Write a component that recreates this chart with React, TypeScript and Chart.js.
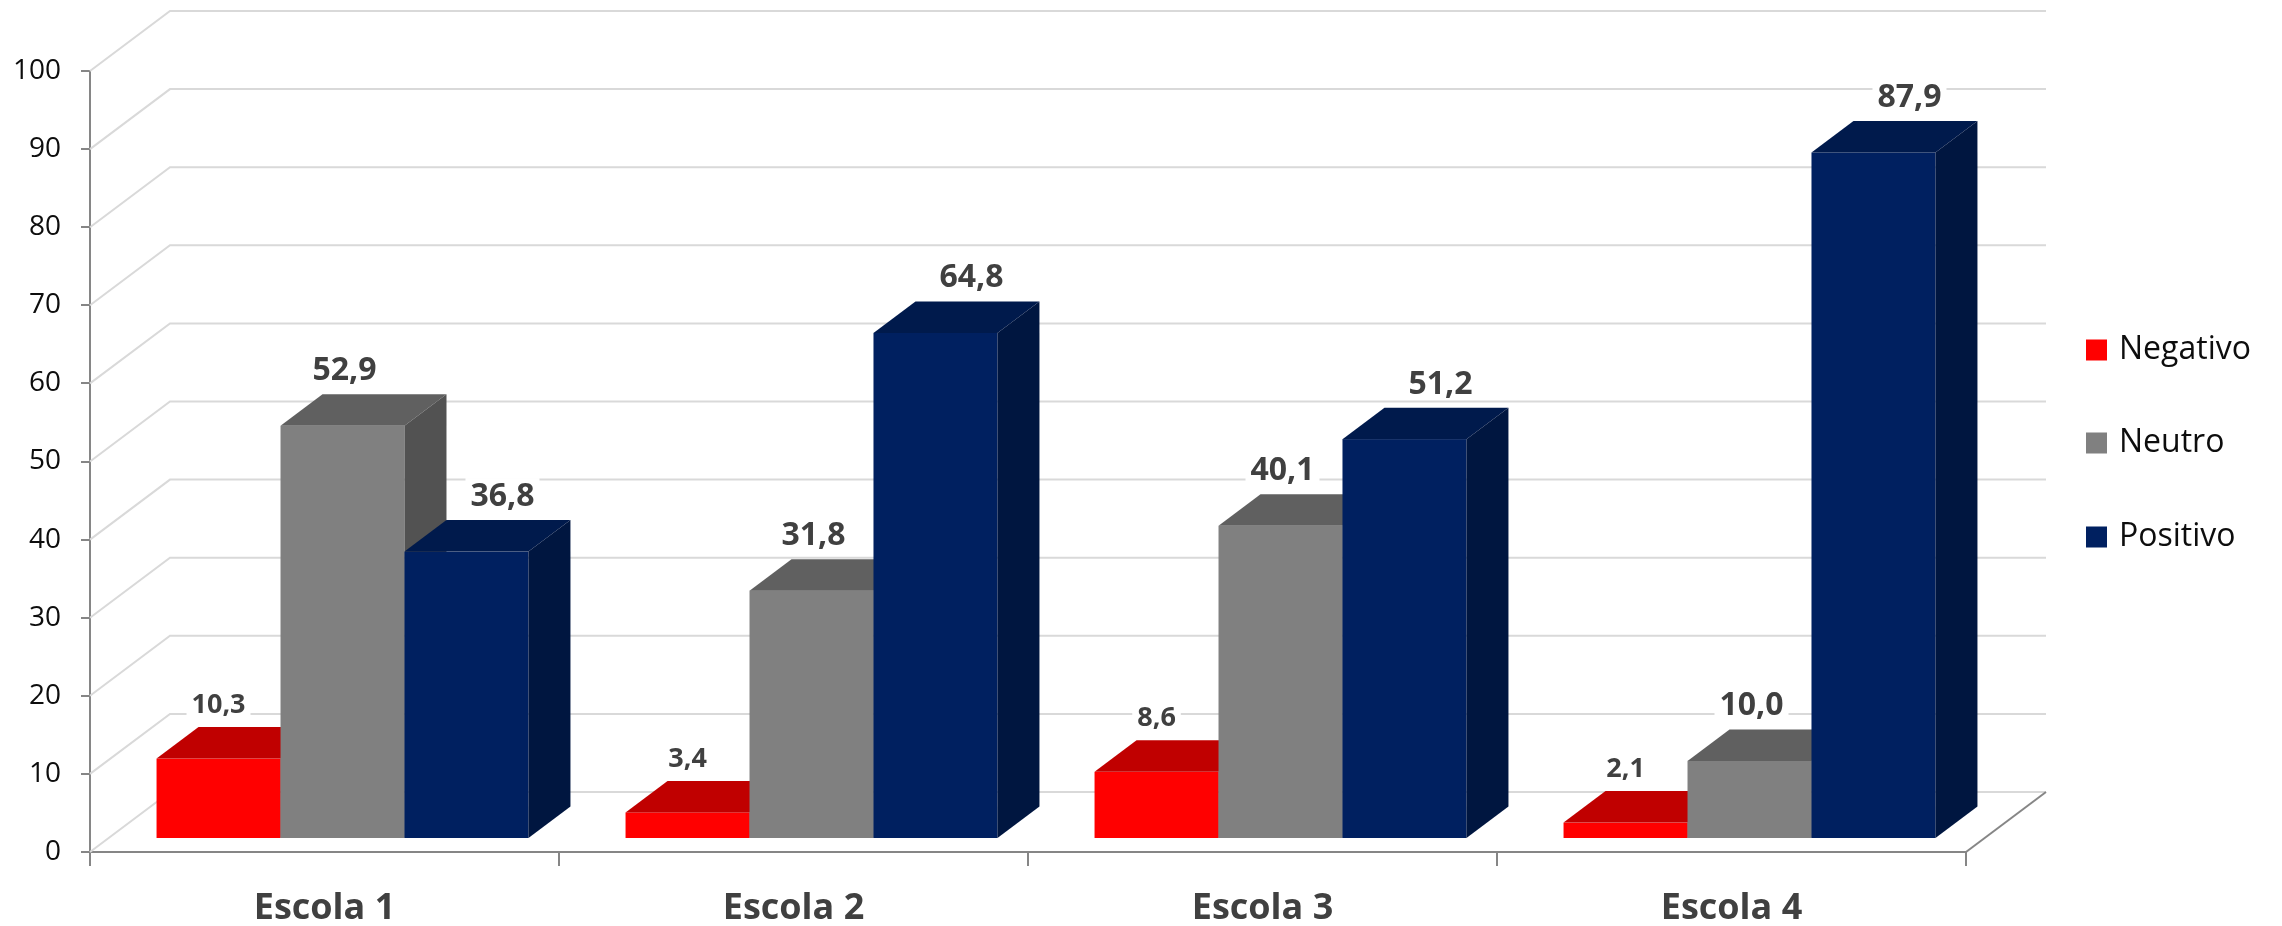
import { useEffect, useRef } from 'react';
import { Chart, registerables } from 'chart.js';

Chart.register(...registerables);

// ---- data ----
const categories = ['Escola 1', 'Escola 2', 'Escola 3', 'Escola 4'];
const seriesNames = ['Negativo', 'Neutro', 'Positivo'];
const negativo = [10.3, 3.4, 8.6, 2.1];
const neutro = [52.9, 31.8, 40.1, 10.0];
const positivo = [36.8, 64.8, 51.2, 87.9];
const yMin = 0;
const yMax = 100;
const yStep = 10;

// ---- styles ----
const FRONT = ['#FF0000', '#808080', '#002060'];
const TOP = ['#C00000', '#606060', '#001A4C'];
const SIDE = ['#A00000', '#525252', '#001640'];
const LABEL_SIZE = [27, 32, 32];
const LABEL_DX = [0, 2, 36];
const BAR_SHIFT = { x: 18, y: -13 };
const BAR_DEPTH = { x: 42, y: -31.5 };
const WALL = { x: 80, y: -60 };
const FONT = '"Open Sans", "DejaVu Sans", sans-serif';

const fmt = (v: number) => v.toFixed(1).replace('.', ',');

const threeD = {
  id: 'threeD',
  beforeDatasetsDraw(chart: any) {
    const { ctx, chartArea: a, scales } = chart;
    const ys = scales.y;
    ctx.save();
    ctx.lineWidth = 2;
    ctx.strokeStyle = '#D9D9D9';
    for (let v = yMin; v <= yMax; v += yStep) {
      const py = ys.getPixelForValue(v);
      ctx.beginPath();
      ctx.moveTo(a.left, py);
      ctx.lineTo(a.left + WALL.x, py + WALL.y);
      ctx.lineTo(a.right + WALL.x, py + WALL.y);
      ctx.stroke();
    }
    ctx.strokeStyle = '#868686';
    ctx.beginPath();
    ctx.moveTo(a.right, a.bottom);
    ctx.lineTo(a.right + WALL.x, a.bottom + WALL.y);
    ctx.stroke();

    const n = chart.data.labels.length;
    for (let j = 0; j < n; j++) {
      chart.data.datasets.forEach((_ds: any, i: number) => {
        const el = chart.getDatasetMeta(i).data[j];
        const p = el.getProps(['x', 'y', 'base', 'width'], true);
        const x0 = p.x - p.width / 2 + BAR_SHIFT.x;
        const x1 = p.x + p.width / 2 + BAR_SHIFT.x;
        const yt = p.y + BAR_SHIFT.y;
        const yb = p.base + BAR_SHIFT.y;
        ctx.fillStyle = FRONT[i];
        ctx.fillRect(x0, yt, x1 - x0, yb - yt);
        ctx.fillStyle = TOP[i];
        ctx.beginPath();
        ctx.moveTo(x0, yt);
        ctx.lineTo(x0 + BAR_DEPTH.x, yt + BAR_DEPTH.y);
        ctx.lineTo(x1 + BAR_DEPTH.x, yt + BAR_DEPTH.y);
        ctx.lineTo(x1, yt);
        ctx.closePath();
        ctx.fill();
        ctx.fillStyle = SIDE[i];
        ctx.beginPath();
        ctx.moveTo(x1, yt);
        ctx.lineTo(x1 + BAR_DEPTH.x, yt + BAR_DEPTH.y);
        ctx.lineTo(x1 + BAR_DEPTH.x, yb + BAR_DEPTH.y);
        ctx.lineTo(x1, yb);
        ctx.closePath();
        ctx.fill();
      });
    }
    ctx.restore();
    return false;
  },
  afterDraw(chart: any) {
    const { ctx } = chart;
    ctx.save();
    chart.data.datasets.forEach((ds: any, i: number) => {
      const meta = chart.getDatasetMeta(i);
      meta.data.forEach((el: any, j: number) => {
        const p = el.getProps(['x', 'y', 'width'], true);
        const text = fmt(ds.data[j]);
        ctx.font = `bold ${LABEL_SIZE[i]}px ${FONT}`;
        const w = ctx.measureText(text).width;
        const cx = p.x + BAR_SHIFT.x + LABEL_DX[i];
        const baseY = p.y + BAR_SHIFT.y + BAR_DEPTH.y - 14;
        const h = LABEL_SIZE[i] * 0.72;
        ctx.fillStyle = '#FFFFFF';
        ctx.fillRect(cx - w / 2 - 5, baseY - h - 5, w + 10, h + 9);
        ctx.fillStyle = '#404040';
        ctx.textAlign = 'center';
        ctx.textBaseline = 'alphabetic';
        ctx.fillText(text, cx, baseY);
      });
    });
    const lx = 2086;
    const ly = [350, 443, 537];
    chart.data.datasets.forEach((ds: any, i: number) => {
      ctx.fillStyle = FRONT[i];
      ctx.fillRect(lx, ly[i] - 10.5, 21, 21);
      ctx.fillStyle = '#0D0D0D';
      ctx.font = `32px ${FONT}`;
      ctx.textAlign = 'left';
      ctx.textBaseline = 'middle';
      ctx.fillText(ds.label, lx + 33, ly[i]);
    });
    ctx.restore();
  },
};

export default function App() {
  const ref = useRef<HTMLCanvasElement>(null);
  useEffect(() => {
    const chart = new Chart(ref.current as HTMLCanvasElement, {
      type: 'bar',
      data: {
        labels: categories,
        datasets: [
          { label: seriesNames[0], data: negativo, backgroundColor: FRONT[0] },
          { label: seriesNames[1], data: neutro, backgroundColor: FRONT[1] },
          { label: seriesNames[2], data: positivo, backgroundColor: FRONT[2] },
        ],
      },
      options: {
        responsive: false,
        animation: false,
        devicePixelRatio: 1,
        datasets: { bar: { categoryPercentage: 0.793, barPercentage: 1 } },
        layout: { padding: { left: 0, top: 71, right: 316, bottom: 0 } },
        plugins: { legend: { display: false }, tooltip: { enabled: false } },
        scales: {
          x: {
            type: 'category',
            offset: true,
            afterFit: (s: any) => { s.height = 74; },
            grid: { offset: true, drawOnChartArea: false, drawTicks: true, tickLength: 14, color: '#868686', lineWidth: 2 },
            border: { display: true, color: '#868686', width: 2 },
            ticks: { color: '#404040', font: { family: FONT, size: 36, weight: 'bold' }, padding: 21 },
          },
          y: {
            min: yMin,
            max: yMax,
            afterFit: (s: any) => { s.width = 90; },
            grid: { drawOnChartArea: false, drawTicks: true, tickLength: 9, color: '#868686', lineWidth: 2 },
            border: { display: true, color: '#868686', width: 2 },
            ticks: { stepSize: yStep, color: '#0D0D0D', font: { family: FONT, size: 28 }, padding: 20 },
          },
        },
      },
      plugins: [threeD],
    } as any);
    return () => chart.destroy();
  }, []);
  return (
    <div style={{ position: 'fixed', left: 0, top: 0, width: 2282, height: 926, background: '#FFFFFF' }}>
      <canvas ref={ref} width={2282} height={926} style={{ width: '2282px', height: '926px', display: 'block' }} />
    </div>
  );
}
